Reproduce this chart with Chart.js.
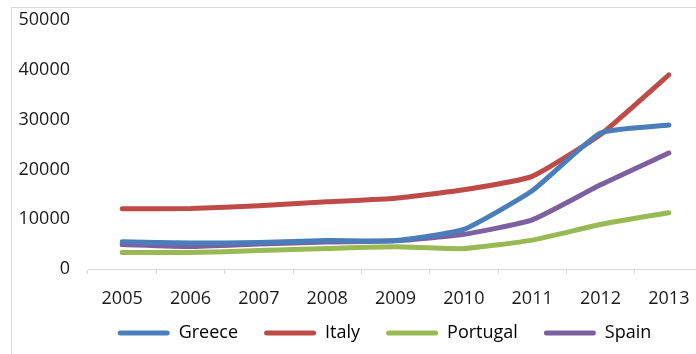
<!DOCTYPE html>
<html>
<head>
<meta charset="utf-8">
<script src="https://cdn.jsdelivr.net/npm/chart.js@4/dist/chart.umd.min.js"></script>
<style>
  html, body { margin: 0; padding: 0; overflow: hidden; background: #fff; width: 696px; height: 354px; }
  #frame { position: absolute; left: 11px; top: 7px; width: 800px; height: 380px; border: 1px solid #d9d9d9; }
  #c { position: absolute; left: 0; top: 0; }
</style>
</head>
<body>
<div id="frame"><canvas id="c" width="746" height="346"></canvas></div>
<script>
const years = ['2005','2006','2007','2008','2009','2010','2011','2012','2013'];
const greece   = [5450, 5200, 5300, 5700, 5700, 7950, 15700, 27300, 28900];
const italy    = [12100, 12150, 12700, 13500, 14200, 15900, 18600, 27000, 39000];
const portugal = [3300, 3300, 3700, 4100, 4450, 4100, 5800, 8950, 11300];
const spain    = [4900, 4500, 5000, 5400, 5650, 6950, 9850, 16900, 23300];
const yTicks = [0, 10000, 20000, 30000, 40000, 50000];

const names = ['Greece', 'Italy', 'Portugal', 'Spain'];
const colors = ['#4A7EBB', '#BE4B48', '#98B954', '#7D60A0'];
const series = [greece, italy, portugal, spain];

const FONT = '"Open Sans", "Noto Sans", sans-serif';
const TXT = '#1a1a1a';

const legendShift = {
  id: 'legendShift',
  afterLayout(chart) {
    const l = chart.legend;
    if (l) {
      l.top = 290; l.bottom = chart.height; l.height = l.bottom - l.top;
      l.left = 54; l.right = chart.width - 55; l.width = l.right - l.left;
    }
  }
};

new Chart(document.getElementById('c'), {
  type: 'line',
  plugins: [legendShift],
  data: {
    labels: years,
    datasets: series.map((d, i) => ({
      label: names[i],
      data: d,
      borderColor: colors[i],
      backgroundColor: colors[i],
      borderWidth: 5,
      pointRadius: 0,
      pointHoverRadius: 0,
      tension: 0.15,
      borderCapStyle: 'round',
      borderJoinStyle: 'round',
      fill: false
    }))
  },
  options: {
    responsive: false,
    animation: false,
    devicePixelRatio: 1,
    layout: { padding: { top: 12, right: 55, bottom: 0, left: 0 } },
    plugins: {
      tooltip: { enabled: false },
      legend: {
        position: 'bottom',
        maxHeight: 40,
        labels: {
          font: { family: FONT, size: 18 },
          color: TXT,
          boxWidth: 52,
          boxHeight: 5,
          padding: 26,
          useBorderRadius: true,
          borderRadius: 2.5,
          generateLabels: (chart) => chart.data.datasets.map((ds, i) => ({
            text: ds.label,
            fillStyle: ds.borderColor,
            strokeStyle: ds.borderColor,
            lineWidth: 0,
            borderRadius: 2.5,
            hidden: false,
            datasetIndex: i
          }))
        }
      }
    },
    scales: {
      x: {
        offset: true,
        grid: { offset: true, drawOnChartArea: false, drawTicks: true, tickLength: 5, color: '#d9d9d9' },
        border: { display: true, color: '#d9d9d9', width: 1 },
        ticks: { font: { family: FONT, size: 18 }, color: TXT, padding: 14, maxRotation: 0 },
        afterFit: (s) => { s.height = 45; }
      },
      y: {
        min: 0,
        max: 50000,
        afterBuildTicks: (s) => { s.ticks = yTicks.map(v => ({ value: v })); },
        grid: { display: false, drawTicks: false },
        border: { display: false },
        ticks: { font: { family: FONT, size: 18 }, color: TXT, padding: 18, callback: (v) => String(v) },
        afterFit: (s) => { s.width = 76; s.paddingTop = 10; s.paddingBottom = 10; }
      }
    }
  }
});
</script>
</body>
</html>
